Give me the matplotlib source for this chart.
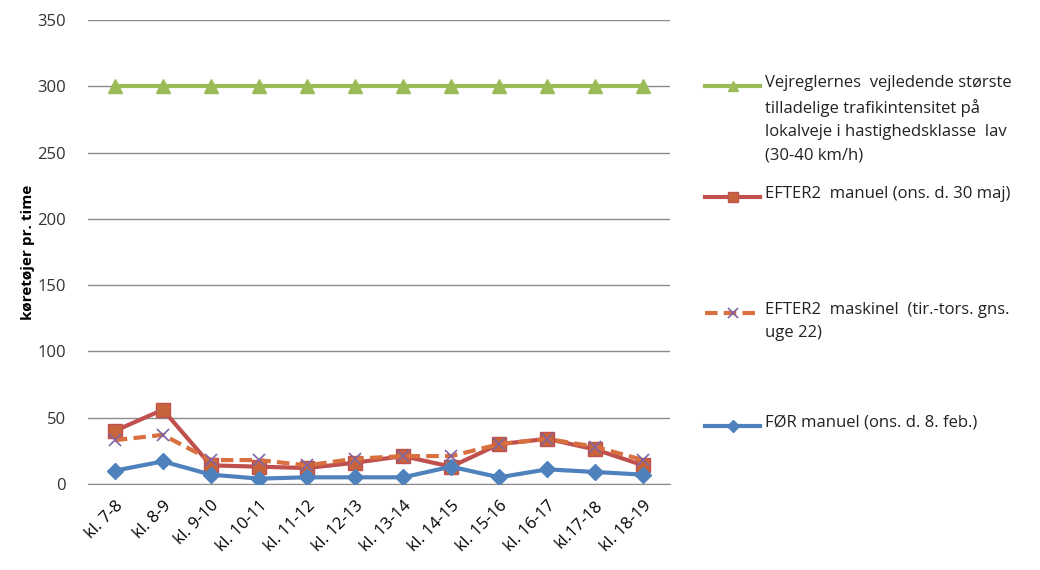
import matplotlib.pyplot as plt
from matplotlib.lines import Line2D

plt.rcParams['font.family'] = ['Open Sans', 'DejaVu Sans']

hours = ['kl. 7-8', 'kl. 8-9', 'kl. 9-10', 'kl. 10-11', 'kl. 11-12', 'kl. 12-13',
         'kl. 13-14', 'kl. 14-15', 'kl. 15-16', 'kl. 16-17', 'kl.17-18', 'kl. 18-19']
limit = [300] * 12
efter_manuel = [40, 56, 14, 13, 12, 16, 21, 13, 30, 34, 26, 14]
efter_maskinel = [33, 37, 18, 18, 14, 19, 21, 21, 30, 34, 28, 18]
foer_manuel = [10, 17, 7, 4, 5, 5, 5, 13, 5, 11, 9, 7]

labels = ['Vejreglernes  vejledende største\ntilladelige trafikintensitet på\nlokalveje i hastighedsklasse  lav\n(30-40 km/h)',
          'EFTER2  manuel (ons. d. 30 maj)',
          'EFTER2  maskinel  (tir.-tors. gns.\nuge 22)',
          'FØR manuel (ons. d. 8. feb.)']

fig = plt.figure(figsize=(10.4, 5.7), dpi=100)
ax = fig.add_axes([0.085, 0.151, 0.559, 0.814])

x = range(len(hours))
styles = [
    dict(color='#9BBB59', marker='^', markersize=10, markerfacecolor='#9BBB59', markeredgecolor='#9BBB59', lw=3),
    dict(color='#C0504D', marker='s', markersize=10, markerfacecolor='#C8643C', markeredgecolor='#C0504D', lw=3),
    dict(color='#D8703F', marker='x', markersize=9, markeredgecolor='#8064A2', markeredgewidth=1.2, lw=3, ls=(0, (3, 1.5))),
    dict(color='#4F81BD', marker='D', markersize=8, markerfacecolor='#4F81BD', markeredgecolor='#4F81BD', lw=3),
]
series = [limit, efter_manuel, efter_maskinel, foer_manuel]
for vals, st in zip(series, styles):
    ax.plot(x, vals, **st, zorder=3)

ax.set_ylim(0, 350)
ax.set_yticks(range(0, 351, 50))
ax.set_xlim(-0.55, 11.55)
ax.set_xticks(list(x))
ax.set_xticklabels(hours, rotation=45, ha='right', rotation_mode='anchor', fontsize=12)
ax.tick_params(axis='x', length=0, pad=10)
ax.tick_params(axis='y', length=0, pad=16, labelsize=12, labelcolor='#333333')
ax.grid(axis='y', color='#8c8c8c', lw=1)
ax.set_axisbelow(True)
for s in ['top', 'right', 'left']:
    ax.spines[s].set_visible(False)
ax.spines['bottom'].set_color('#8c8c8c')
ax.set_ylabel('køretøjer pr. time', fontsize=11, fontweight='bold', labelpad=2)

# manual legend
legend_y = [86, 197, 313, 426]
for st, lab, py in zip(styles, labels, legend_y):
    yf = 1 - py / 570
    lst = dict(st)
    lst['markersize'] = st['markersize'] * 0.75
    h = Line2D([705 / 1040, 732.5 / 1040, 760 / 1040], [yf, yf, yf],
               transform=fig.transFigure, markevery=[1], **lst)
    fig.add_artist(h)
    fig.text(765 / 1040, yf + 0.02, lab, fontsize=12, va='top', ha='left',
             linespacing=1.6, color='#222222')

fig.savefig('out.png')
